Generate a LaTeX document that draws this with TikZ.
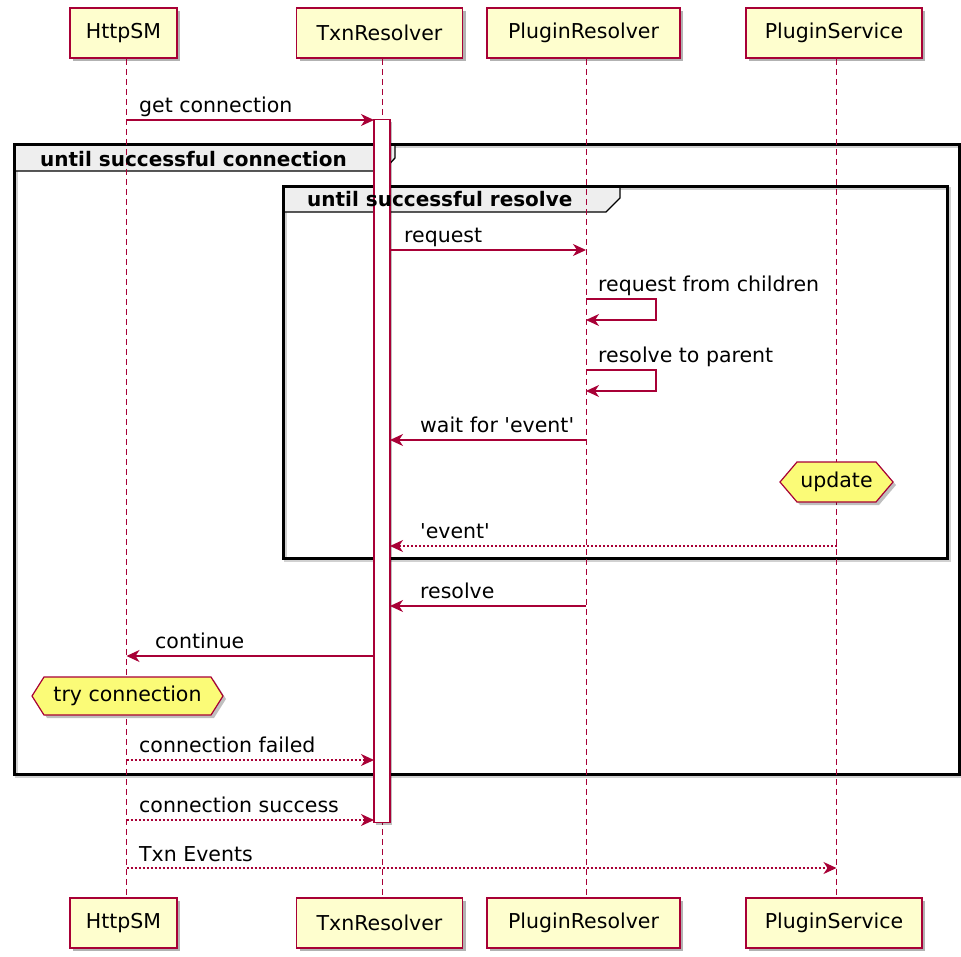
\documentclass[tikz,border=0pt]{standalone}
\usepackage{fontspec}
\setmainfont{DejaVu Sans}
\usetikzlibrary{arrows.meta,shadows,calc}
\definecolor{plred}{HTML}{A80036}
\definecolor{plbox}{HTML}{FEFECE}
\definecolor{plhex}{HTML}{FBFB77}
\definecolor{pltab}{HTML}{EEEEEE}
\tikzset{
  lbl/.style={font=\fontsize{20.5}{24}\selectfont},
  actor/.style={draw=plred, line width=1.5pt, fill=plbox, minimum height=50pt,
    inner sep=0pt, lbl,
    drop shadow={shadow xshift=3pt, shadow yshift=-3pt, opacity=0.3, fill=black}},
  lifeline/.style={draw=plred, line width=1pt, dash pattern=on 6pt off 4pt},
  actbar/.style={draw=plred, line width=1.2pt, fill=white, minimum width=16pt,
    inner sep=0pt, anchor=north,
    drop shadow={shadow xshift=2pt, shadow yshift=-2pt, opacity=0.25, fill=black}},
  msg/.style={draw=plred, line width=1.2pt,
    -{Stealth[length=13pt, width=12pt, inset=4pt]}},
  reply/.style={msg, dash pattern=on 2pt off 2pt},
  frame/.style={draw=black, line width=2.5pt, inner sep=0pt, anchor=north west},
  frameshadow/.style={draw=black, opacity=0.18, line width=3pt},
  tabline/.style={draw=black, line width=1.3pt},
  tabtext/.style={anchor=base west, inner sep=0pt, font=\fontsize{20}{24}\selectfont\bfseries},
  mlabel/.style={anchor=base west, lbl, inner sep=0pt},
  hexa/.style={draw=plred, line width=1.2pt, fill=plhex},
  hexshadow/.style={fill=black, opacity=0.25},
}
\newcommand\hexaround[4]{% centre, half width, half height, slant
  \fill[hexshadow] ($(#1)+(-#2+3,3)$) -- ($(#1)+(-#2+#4+3,-#3+3)$) -- ($(#1)+(#2-#4+3,-#3+3)$)
    -- ($(#1)+(#2+3,3)$) -- ($(#1)+(#2-#4+3,#3+3)$) -- ($(#1)+(-#2+#4+3,#3+3)$) -- cycle;
  \draw[hexa] ($(#1)+(-#2,0)$) -- ($(#1)+(-#2+#4,-#3)$) -- ($(#1)+(#2-#4,-#3)$)
    -- ($(#1)+(#2,0)$) -- ($(#1)+(#2-#4,#3)$) -- ($(#1)+(-#2+#4,#3)$) -- cycle;}
\begin{document}
\begin{tikzpicture}[x=1pt, y=-1pt]
\useasboundingbox (0,0) rectangle (961,956);

% ---- loop frames: shadow, title tab, border ----
\draw[frameshadow] (16,146) rectangle (961,776);
\fill[pltab] (13,143) -- (395,143) -- (395,158) -- (383,171) -- (13,171) -- cycle;
\node[frame, minimum width=945pt, minimum height=630pt] (loopConn) at (13,143) {};
\draw[tabline] (395,143) -- (395,158) -- (383,171) -- (loopConn.west |- 0,171);

\draw[frameshadow] (285,188) rectangle (949,560);
\fill[pltab] (282,185) -- (620,185) -- (620,198) -- (606,212) -- (282,212) -- cycle;
\node[frame, minimum width=664pt, minimum height=372pt] (loopRes) at (282,185) {};
\draw[tabline] (620,185) -- (620,198) -- (606,212) -- (loopRes.west |- 0,212);

% ---- participants ----
\node[actor, minimum width=107pt] (hsTop) at (123.5,33) {HttpSM};
\node[actor, minimum width=166pt] (trTop) at (379.5,33) {TxnResolver};
\node[actor, minimum width=193pt] (prTop) at (583.5,33) {PluginResolver};
\node[actor, minimum width=176pt] (psTop) at (834,33) {PluginService};
\node[actor, minimum width=107pt] (hsBot) at (123.5,923) {HttpSM};
\node[actor, minimum width=166pt] (trBot) at (379.5,923) {TxnResolver};
\node[actor, minimum width=193pt] (prBot) at (583.5,923) {PluginResolver};
\node[actor, minimum width=176pt] (psBot) at (834,923) {PluginService};

% ---- lifelines ----
\draw[lifeline] ([xshift=3pt]hsTop.south) -- ([xshift=3pt]hsBot.north);
\draw[lifeline] ([xshift=2.5pt]trTop.south) -- ([xshift=2.5pt]trBot.north);
\draw[lifeline] ([xshift=2.5pt]prTop.south) -- ([xshift=2.5pt]prBot.north);
\draw[lifeline] ([xshift=2.5pt]psTop.south) -- ([xshift=2.5pt]psBot.north);

% ---- activation of TxnResolver ----
\node[actbar, minimum height=703pt] (trAct) at (382,119) {};

% ---- frame titles ----
\node[tabtext] (loopConnT) at (40,166) {until successful connection};
\node[tabtext] (loopResT) at (307,206) {until successful resolve};

% ---- message end points ----
\coordinate (getA) at (126.5,120);   \coordinate (getB) at (374,120);
\coordinate (reqA) at (390,250);     \coordinate (reqB) at (586,250);
\coordinate (chA) at (586,299);      \coordinate (chB) at (586,320);
\coordinate (parA) at (586,370);     \coordinate (parB) at (586,391);
\coordinate (waitA) at (586,440);    \coordinate (waitB) at (390,440);
\coordinate (evA) at (836.5,546);    \coordinate (evB) at (390,546);
\coordinate (resA) at (586,606);     \coordinate (resB) at (390,606);
\coordinate (contA) at (374,656);    \coordinate (contB) at (126.5,656);
\coordinate (failA) at (126.5,760);  \coordinate (failB) at (374,760);
\coordinate (succA) at (126.5,820);  \coordinate (succB) at (374,820);
\coordinate (txnA) at (126.5,868);   \coordinate (txnB) at (836.5,868);

% ---- messages ----
\draw[msg] (getA) -- (getB);
\node[mlabel] (getL) at (139,112) {get connection};
\draw[msg] (reqA) -- (reqB);
\node[mlabel] (reqL) at (404,242) {request};
\draw[msg] (chA) -- ++(70,0) |- (chB);
\node[mlabel] (chL) at (598,291) {request from children};
\draw[msg] (parA) -- ++(70,0) |- (parB);
\node[mlabel] (parL) at (598,362) {resolve to parent};
\draw[msg] (waitA) -- (waitB);
\node[mlabel] (waitL) at (420,432) {wait for \textquotesingle event\textquotesingle};
\draw[reply] (evA) -- (evB);
\node[mlabel] (evL) at (420,538) {\textquotesingle event\textquotesingle};
\draw[msg] (resA) -- (resB);
\node[mlabel] (resL) at (420,598) {resolve};
\draw[msg] (contA) -- (contB);
\node[mlabel] (contL) at (155,648) {continue};
\draw[reply] (failA) -- (failB);
\node[mlabel] (failL) at (139,752) {connection failed};
\draw[reply] (succA) -- (succB);
\node[mlabel] (succL) at (139,812) {connection success};
\draw[reply] (txnA) -- (txnB);
\node[mlabel] (txnL) at (139,861) {Txn Events};

% ---- hexagon notes ----
\coordinate (updC) at (836.5,482);
\hexaround{updC}{56.5}{20}{17}
\node[lbl, inner sep=0pt] (upd) at (updC) {update};
\coordinate (tryC) at (127.5,696);
\hexaround{tryC}{95.5}{19}{12}
\node[lbl, inner sep=0pt] (tryN) at (tryC) {try connection};
\end{tikzpicture}
\end{document}
